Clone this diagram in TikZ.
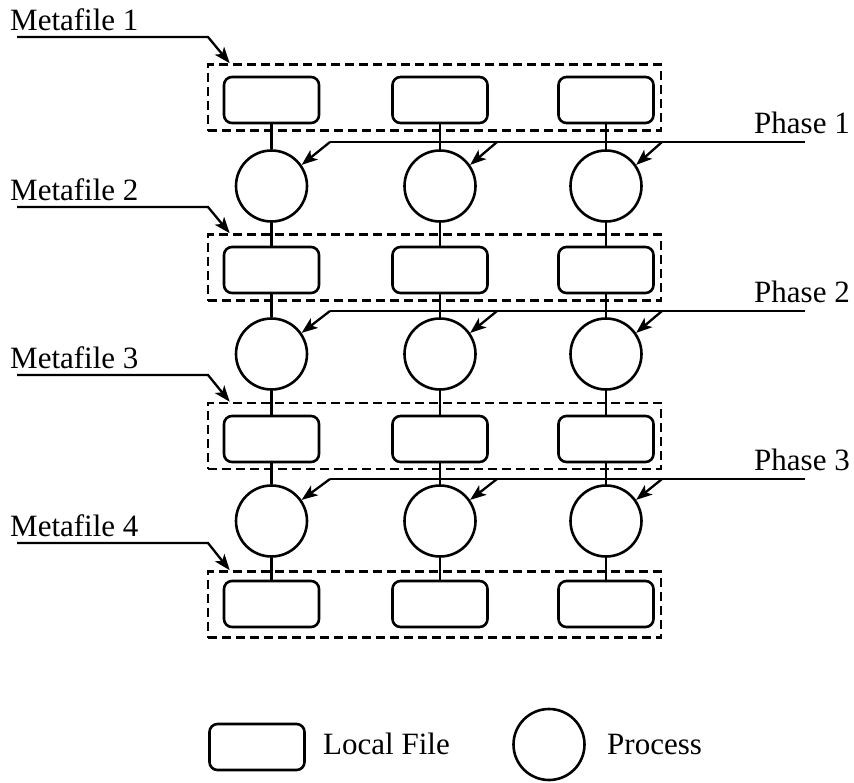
\documentclass[tikz,border=0pt]{standalone}
\usepackage{fontspec}
\setmainfont{Liberation Serif}
\usetikzlibrary{arrows.meta}
\begin{document}
\begin{tikzpicture}[x=1pt,y=-1pt,
  lfile/.style={draw, line width=2.6pt, rounded corners=8pt, minimum width=95pt, minimum height=46pt, inner sep=0pt, fill=white},
  proc/.style={draw, circle, line width=2.6pt, minimum size=71pt, inner sep=0pt, fill=white},
  meta/.style={draw, line width=2.6pt, dash pattern=on 9pt off 5pt, minimum width=453pt, minimum height=66pt, inner sep=0pt},
  link/.style={line width=2.3pt},
  ptr/.style={line width=2.3pt, -{Stealth[length=16pt,width=12pt,inset=4pt]}},
  lbl/.style={font=\fontsize{31}{37}\selectfont, inner sep=0pt}
]
\useasboundingbox (0,0) rectangle (854,782);

% metafile boxes and their labels
\foreach \r/\fy/\my/\uy in {1/100/97.5/37, 2/270/267.5/207, 3/439/436/375, 4/604/604.5/543} {
  \node[meta] (m\r) at (434.5,\my) {};
  \node[lbl, anchor=base west] (ml\r) at (10,\uy-7) {Metafile \r};
  \coordinate (ua\r) at (17,\uy);
  \coordinate (ub\r) at (208,\uy);
  \draw[ptr] (ua\r) -- (ub\r) -- ([xshift=23pt]m\r.north west);
}

% processes and phases
\foreach \r/\cy/\py in {1/186/142, 2/354/311, 3/521/479} {
  \coordinate (pe\r) at (805,\py);
  \coordinate (ps\r) at (330,\py);
  \coordinate (pb\r) at (497,\py);
  \coordinate (pc\r) at (662,\py);
  \node[proc] (pa\r) at (271.5,\cy) {};
  \node[proc] (pbb\r) at (440,\cy) {};
  \node[proc] (pcc\r) at (606,\cy) {};
  \draw[link] (pe\r) -- (ps\r);
  \draw[ptr] (ps\r) -- (pa\r.35);
  \draw[ptr] (pb\r) -- (pbb\r.35);
  \draw[ptr] (pc\r) -- (pcc\r.35);
  \node[lbl, anchor=base east] (pl\r) at (850,\py-9) {Phase \r};
}

% local files
\foreach \r/\fy in {1/100, 2/270, 3/439, 4/604} {
  \node[lfile] (fa\r) at (271.5,\fy) {};
  \node[lfile] (fb\r) at (440,\fy) {};
  \node[lfile] (fc\r) at (606,\fy) {};
}

% vertical links
\foreach \r in {1,2,3} {
  \pgfmathtruncatemacro{\nx}{\r+1}
  \draw[link] (fa\r.south) -- (pa\r.north);
  \draw[link] (pa\r.south) -- (fa\nx.north);
  \draw[link] (fb\r.south) -- (pbb\r.north);
  \draw[link] (pbb\r.south) -- (fb\nx.north);
  \draw[link] (fc\r.south) -- (pcc\r.north);
  \draw[link] (pcc\r.south) -- (fc\nx.north);
}

% legend
\node[lfile] (lgf) at (257,747) {};
\node[lbl, anchor=base west] (lgft) at (323,754) {Local File};
\node[proc] (lgp) at (549,744.5) {};
\node[lbl, anchor=base west] (lgpt) at (607,754) {Process};
\end{tikzpicture}
\end{document}
